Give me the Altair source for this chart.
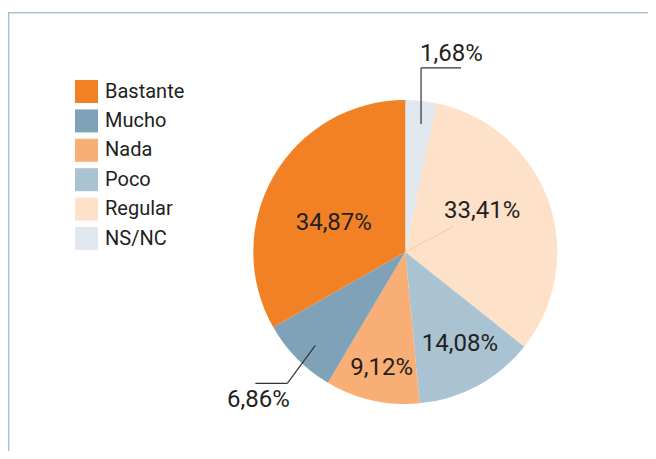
import altair as alt
import pandas as pd

# ---- data (clockwise from 12 o'clock) ----
categories = ["NS/NC", "Regular", "Poco", "Nada", "Mucho", "Bastante"]
# slice shares as drawn in the picture (%)
shares = [3.3, 32.4, 12.8, 10.0, 8.25, 33.25]
# printed labels
labels = ["1,68%", "33,41%", "14,08%", "9,12%", "6,86%", "34,87%"]
legend_order = ["Bastante", "Mucho", "Nada", "Poco", "Regular", "NS/NC"]
legend_colors = ["#F28025", "#7FA2B8", "#F8AE74", "#AAC3D3", "#FDE1C9", "#E1E8EF"]

df = pd.DataFrame({"cat": categories, "val": shares, "lab": labels,
                   "ord": list(range(len(categories)))})

# ---- layout / style ----
W, H = 640, 443
CX, CY, R = 397.3, 244, 152
FONT = "Roboto, Open Sans, sans-serif"
TXT = "#231F20"
LINE = "#333333"
FRAME = "#A9C4D3"
FS = 24

color = alt.Color(
    "cat:N",
    scale=alt.Scale(domain=legend_order, range=legend_colors),
    legend=alt.Legend(
        title=None, orient="none", legendX=67, legendY=72, direction="vertical",
        symbolType="square", symbolSize=529, symbolStrokeWidth=0, symbolOpacity=1,
        labelFont=FONT, labelFontSize=20, labelColor=TXT, rowPadding=6.4,
        labelOffset=7, padding=0,
    ),
)

pie = alt.Chart(df).mark_arc(radius=R).encode(
    theta=alt.Theta("val:Q", stack=True),
    order=alt.Order("ord:Q"),
    color=color,
    x=alt.value(CX),
    y=alt.value(CY),
)

polar = alt.Chart(df).transform_window(
    cum="sum(val)", sort=[alt.SortField("ord", order="ascending")], frame=[None, 0]
).transform_joinaggregate(total="sum(val)")


def XP(f):
    return alt.X(f, scale=None, axis=None)


def YP(f):
    return alt.Y(f, scale=None, axis=None)


def at(frac):
    return f"2*PI*(datum.cum - datum.val + {frac}*datum.val)/datum.total"


layers = [pie]

# faint leader inside "Regular"
layers.append(
    polar.transform_filter(alt.datum.cat == "Regular").transform_calculate(
        a=at(0.43)
    ).transform_calculate(
        x0=f"{CX}", y0=f"{CY}",
        x1=f"{CX} + 55*sin(datum.a)", y1=f"{CY} - 55*cos(datum.a)",
    ).mark_rule(color="#F3C49C", strokeWidth=0.8).encode(
        x=XP("x0:Q"), y=YP("y0:Q"), x2="x1:Q", y2="y1:Q"
    )
)

# inside labels: category -> (label radius, position within slice)
inside = {"Bastante": (77, 0.43), "Regular": (87, 0.43),
          "Poco": (107, 0.45), "Nada": (118, 0.47)}
for cat, (r, frac) in inside.items():
    layers.append(
        polar.transform_filter(alt.datum.cat == cat).transform_calculate(
            a=at(frac)
        ).transform_calculate(
            lx=f"{CX} + {r}*sin(datum.a)", ly=f"{CY} - {r}*cos(datum.a)"
        ).mark_text(font=FONT, fontSize=FS, color=TXT, align="center",
                    baseline="middle").encode(
            x=XP("lx:Q"), y=YP("ly:Q"), text="lab:N"
        )
    )

# outside callouts: (category, anchor radius, fraction in slice, elbow dx, dy, end dx,
#                    text dx from elbow, text dy from elbow, align)
callouts = [
    ("NS/NC", 129, 0.59, 0, -56, 40, -1, -7, "left"),
    ("Mucho", 129.6, 0.45, -28, 38, -32, -29, 24, "center"),
]
for cat, r, frac, dx1, dy1, dx2, tdx, tdy, align in callouts:
    c = polar.transform_filter(alt.datum.cat == cat).transform_calculate(
        a=at(frac)
    ).transform_calculate(
        ax=f"{CX} + {r}*sin(datum.a)", ay=f"{CY} - {r}*cos(datum.a)"
    ).transform_calculate(
        bx=f"datum.ax + {dx1}", by=f"datum.ay + {dy1}"
    ).transform_calculate(
        ex=f"datum.bx + {dx2}", ey="datum.by",
        tx=f"datum.bx + {tdx}", ty=f"datum.by + {tdy}",
    )
    layers.append(c.mark_rule(color=LINE, strokeWidth=1.2).encode(
        x=XP("ax:Q"), y=YP("ay:Q"), x2="bx:Q", y2="by:Q"))
    layers.append(c.mark_rule(color=LINE, strokeWidth=1.2).encode(
        x=XP("bx:Q"), y=YP("by:Q"), x2="ex:Q", y2="ey:Q"))
    layers.append(c.mark_text(font=FONT, fontSize=FS, color=TXT, align=align,
                              baseline="alphabetic").encode(
        x=XP("tx:Q"), y=YP("ty:Q"), text="lab:N"))

# frame lines (top and left)
one = pd.DataFrame({"k": [0]})
layers.append(alt.Chart(one).mark_rule(color=FRAME, strokeWidth=1.5).encode(
    x=alt.value(0), x2=alt.value(W), y=alt.value(4.7)))
layers.append(alt.Chart(one).mark_rule(color=FRAME, strokeWidth=1.5).encode(
    x=alt.value(0.75), y=alt.value(4), y2=alt.value(H)))

chart = alt.layer(*layers).properties(
    width=W, height=H,
    autosize=alt.AutoSizeParams(type="none"),
    padding=0,
    background="white",
).configure_view(stroke=None)

chart.save("out.html", embed_options={"renderer": "svg", "actions": False})
